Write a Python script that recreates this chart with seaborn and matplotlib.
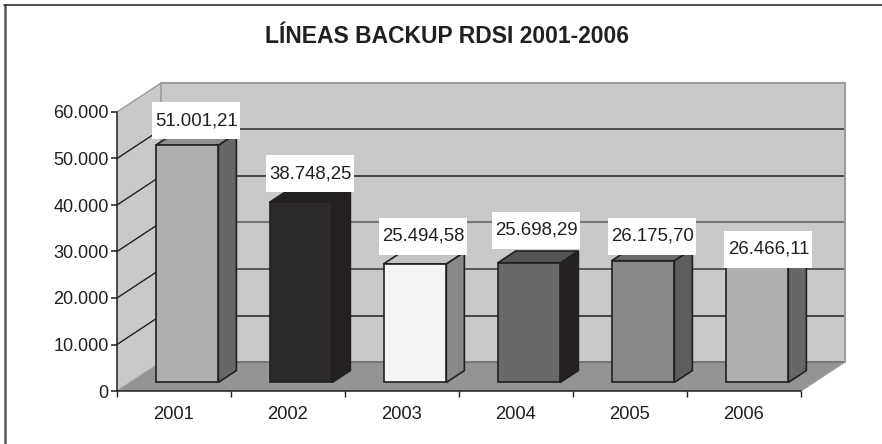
import matplotlib
matplotlib.use("Agg")
import matplotlib.pyplot as plt
from matplotlib.lines import Line2D
from matplotlib.patches import Polygon, Rectangle
from matplotlib.ticker import FuncFormatter, FixedLocator
import pandas as pd
import seaborn as sns

# ---- data ----
years = ["2001", "2002", "2003", "2004", "2005", "2006"]
values = [51001.21, 38748.25, 25494.58, 25698.29, 26175.70, 26466.11]
value_labels = ["51.001,21", "38.748,25", "25.494,58", "25.698,29", "26.175,70", "26.466,11"]
title_text = "LÍNEAS BACKUP RDSI 2001-2006"
y_ticks = [0, 10000, 20000, 30000, 40000, 50000, 60000]

# ---- colours ----
front_colors = ["#aeafb1", "#2b292a", "#f4f4f4", "#68696b", "#88898b", "#aeafb1"]
side_colors = ["#666769", "#232122", "#88898b", "#232122", "#5e5e60", "#666769"]
top_colors = ["#8e8f91", "#232122", "#c4c4c6", "#545456", "#6a6a6c", "#8e8f91"]
INK = "#231f20"
WALL = "#c8c9cb"
FLOOR = "#939496"
EDGE = "#9a9b9d"
GREY_LINE = "#777777"
# back-wall grid colours for 10.000 ... 60.000
BACK_GRID = [INK, "#3a3a3a", GREY_LINE, INK, "#2a2a2a", EDGE]

# ---- layout (pixels of the 882x444 canvas) ----
W, H = 882, 444
AX_L, AX_R, AX_T, AX_B = 117, 801, 112, 391
DEPTH_PX = (44, 29)        # wall depth
BAR_D0, BAR_D1 = 0.295, 0.705   # bar slab within the depth
LABEL_NUDGE = [(9.5, 24.5), (9.5, 28.5), (8.5, 27.5), (7.5, 32.5), (9.5, 24.5), (11.5, 10)]
BOX_PX = (88, 37)

sns.set_theme(style="white")
plt.rcParams["font.family"] = ["Liberation Sans", "DejaVu Sans"]

fig = plt.figure(figsize=(W / 100, H / 100), dpi=100, facecolor="white")
ax = fig.add_axes([AX_L / W, 1 - AX_B / H, (AX_R - AX_L) / W, (AX_B - AX_T) / H])
ax.patch.set_visible(False)

df = pd.DataFrame({"year": years, "value": values})
sns.barplot(data=df, x="year", y="value", hue="year", palette=front_colors, width=0.55,
            legend=False, edgecolor=INK, linewidth=1.2, saturation=1, ax=ax, zorder=5)

ax.set_xlim(-0.5, len(years) - 0.5)
ax.set_ylim(0, y_ticks[-1])
ax.set_xlabel("")
ax.set_ylabel("")

px_x = len(years) / (AX_R - AX_L)         # data units per pixel
px_y = y_ticks[-1] / (AX_B - AX_T)
DX, DY = DEPTH_PX[0] * px_x, DEPTH_PX[1] * px_y


def project(x, y, d):
    return (x + d * DX, y + d * DY)


def face(points, color, edge="none", lw=0.0, z=1):
    ax.add_patch(Polygon(points, closed=True, facecolor=color, edgecolor=edge, linewidth=lw,
                         zorder=z, clip_on=False, joinstyle="miter"))


def segment(a, b, color, lw):
    ax.plot(*zip(a, b), color=color, lw=lw, zorder=2, clip_on=False)


x0, x1 = ax.get_xlim()
ymax = y_ticks[-1]

# walls and floor
face([project(x0, 0, 0), project(x0, ymax, 0), project(x0, ymax, 1), project(x0, 0, 1)], WALL)
face([project(x0, 0, 1), project(x0, ymax, 1), project(x1, ymax, 1), project(x1, 0, 1)], WALL)
face([project(x0, 0, 0), project(x1, 0, 0), project(x1, 0, 1), project(x0, 0, 1)], FLOOR)

# grid lines: diagonal on the left wall, horizontal on the back wall
for tick, back_color in zip(y_ticks[1:], BACK_GRID):
    segment(project(x0, tick, 0), project(x0, tick, 1), INK if tick < ymax else EDGE, 1.0)
    segment(project(x0, tick, 1), project(x1, tick, 1), back_color,
            1.5 if back_color in (GREY_LINE, EDGE) else 1.1)
segment(project(x0, 0, 1), project(x1, 0, 1), GREY_LINE, 1.5)
segment(project(x1, 0, 1), project(x1, ymax, 1), EDGE, 1.5)
segment(project(x0, 0, 1), project(x0, ymax, 1), EDGE, 1.2)
segment(project(x0, 0, 0), project(x0, 0, 1), EDGE, 0.8)
segment(project(x1, 0, 0), project(x1, 0, 1), EDGE, 0.8)

# move seaborn's bars into the depth and add their 3-D faces
bars = [bar for container in ax.containers for bar in container]
for patch, v, s_col, t_col, label, nudge in zip(bars, values, side_colors, top_colors,
                                                value_labels, LABEL_NUDGE):
    bx, bw = patch.get_x(), patch.get_width()
    patch.set_x(bx + BAR_D0 * DX)
    patch.set_y(BAR_D0 * DY)
    patch.set_clip_on(False)
    l, r = bx, bx + bw
    edge_kw = dict(edge=INK, lw=1.2, z=4)
    face([project(r, 0, BAR_D0), project(r, v, BAR_D0), project(r, v, BAR_D1), project(r, 0, BAR_D1)],
         s_col, **edge_kw)
    face([project(l, v, BAR_D0), project(r, v, BAR_D0), project(r, v, BAR_D1), project(l, v, BAR_D1)],
         t_col, **edge_kw)
    # value label: white box with text
    fx, fy = project((l + r) / 2, v, BAR_D0)
    cx = fx + nudge[0] * px_x
    cy = fy + nudge[1] * px_y
    ax.add_patch(Rectangle((cx - BOX_PX[0] * px_x / 2, cy - BOX_PX[1] * px_y / 2),
                           BOX_PX[0] * px_x, BOX_PX[1] * px_y, facecolor="white", edgecolor="none",
                           zorder=7, clip_on=False))
    ax.text(cx, cy, label, ha="center", va="center", fontsize=13.4, color=INK, zorder=8, clip_on=False)

# axes
for name, spine in ax.spines.items():
    spine.set_visible(name in ("left", "bottom"))
    spine.set_color(INK)
    spine.set_linewidth(1.1)
    spine.set_zorder(3)

ax.yaxis.set_major_locator(FixedLocator(y_ticks))
ax.yaxis.set_major_formatter(FuncFormatter(lambda v, _: f"{int(v):,}".replace(",", ".")))
ax.tick_params(axis="y", left=True, length=4, width=1.1, color=INK, labelsize=13, labelcolor=INK, pad=2)
ax.xaxis.set_minor_locator(FixedLocator([i - 0.5 for i in range(len(years) + 1)]))
ax.tick_params(axis="x", which="minor", bottom=True, length=4.5, width=1.0, color=INK)
ax.tick_params(axis="x", which="major", bottom=False, length=0, labelsize=13.2, labelcolor=INK, pad=10.5)

fig.text(447 / W, 1 - 36 / H, title_text, ha="center", va="center", fontsize=16.5,
         fontweight="bold", color=INK)

# page frame: only the left and top rules
fig.add_artist(Line2D([5 / W, 5 / W], [0, 1 - 5 / H], color="#555555", lw=1.8))
fig.add_artist(Line2D([4 / W, 1], [1 - 5 / H, 1 - 5 / H], color=INK, lw=1.1))

fig.savefig("out.png", dpi=100)
